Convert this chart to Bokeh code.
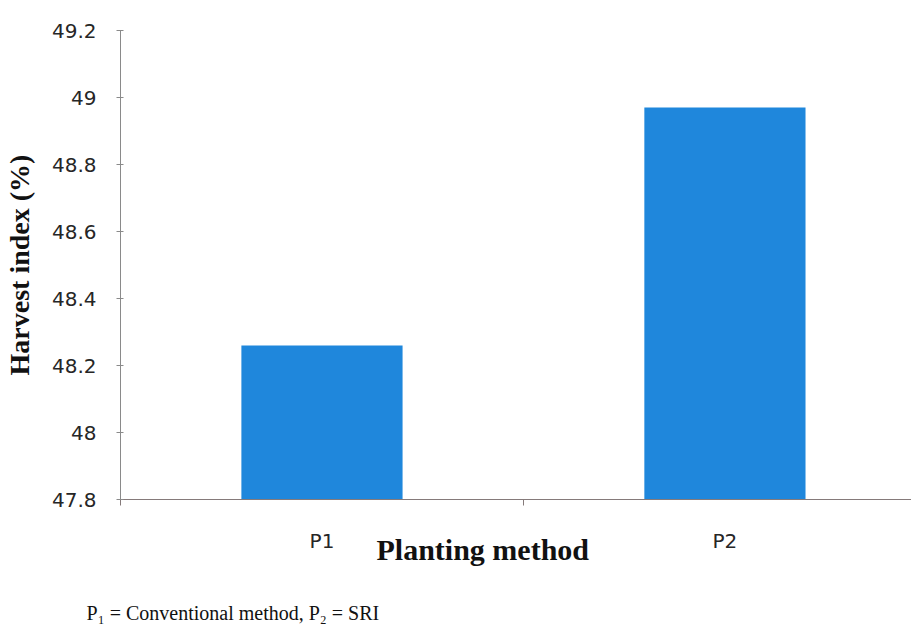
from bokeh.plotting import figure
from bokeh.models import Range1d, FixedTicker, Title, LinearAxis
from bokeh.embed import file_html
from bokeh.resources import INLINE

categories = ["P1", "P2"]
harvest_index = [48.26, 48.97]
y_ticks = [47.8, 48.0, 48.2, 48.4, 48.6, 48.8, 49.0, 49.2]
y_tick_labels = ["47.8", "48", "48.2", "48.4", "48.6", "48.8", "49", "49.2"]
y_min, y_max = 47.8, 49.2
footnote = "P\u2081 = Conventional method, P\u2082 = SRI"
x_title = "Planting method"
y_title = "Harvest index (%)"

x_pos = [i + 0.5 for i in range(len(categories))]

p = figure(width=911, height=626, x_range=Range1d(0, 1.963), y_range=Range1d(y_min, y_max),
           output_backend="svg", toolbar_location=None,
           min_border_left=116, min_border_right=0, min_border_top=30, min_border_bottom=126)
p.background_fill_color = "white"
p.border_fill_color = "white"
p.outline_line_color = None
p.grid.grid_line_color = None

p.vbar(x=x_pos, top=harvest_index, bottom=y_min, width=0.4,
       fill_color="#1f87dc", line_color=None)

# y axis
ya = p.yaxis[0]
ya.ticker = FixedTicker(ticks=y_ticks, minor_ticks=[])
ya.major_label_overrides = {t: l for t, l in zip(y_ticks, y_tick_labels)}
ya.axis_line_color = "#8a8a8a"
ya.major_tick_line_color = "#8a8a8a"
ya.major_tick_in = 3
ya.major_tick_out = 4
ya.minor_tick_line_color = None
ya.major_label_standoff = 20
ya.major_label_text_font = "DejaVu Sans"
ya.major_label_text_font_size = "20px"
ya.major_label_text_color = "#262626"
ya.axis_label = y_title
ya.axis_label_text_font = "Liberation Serif"
ya.axis_label_text_font_style = "bold"
ya.axis_label_text_font_size = "28px"
ya.axis_label_text_color = "#111111"
ya.axis_label_standoff = 14

# x axis
xa = p.xaxis[0]
xa.ticker = FixedTicker(ticks=x_pos, minor_ticks=[0, 1, 2])
xa.major_label_overrides = {x: c for x, c in zip(x_pos, categories)}
xa.axis_line_color = "#857a7a"
xa.major_tick_line_color = None
xa.major_tick_out = 0
xa.major_tick_in = 0
xa.minor_tick_line_color = "#857a7a"
xa.minor_tick_out = 6
xa.minor_tick_in = 0
xa.major_label_standoff = 23
xa.major_label_text_font = "DejaVu Sans"
xa.major_label_text_font_size = "20px"
xa.major_label_text_color = "#262626"

p.add_layout(Title(text=x_title, align="left", offset=256, standoff=-45, vertical_align="top",
                   text_font="Liberation Serif", text_font_size="30px", text_color="#111111",
                   text_font_style="bold"), "below")

# footnote drawn as the only label of a bare extra axis
note_x = 0.279
fa = LinearAxis(ticker=FixedTicker(ticks=[note_x], minor_ticks=[]),
                major_label_overrides={note_x: footnote},
                axis_line_color=None, major_tick_line_color=None, minor_tick_line_color=None,
                major_tick_in=0, major_tick_out=0, major_label_standoff=46,
                major_label_text_font="Liberation Serif", major_label_text_font_size="20px",
                major_label_text_color="#111111")
p.add_layout(fa, "below")

open("out.html", "w").write(file_html(p, INLINE))
